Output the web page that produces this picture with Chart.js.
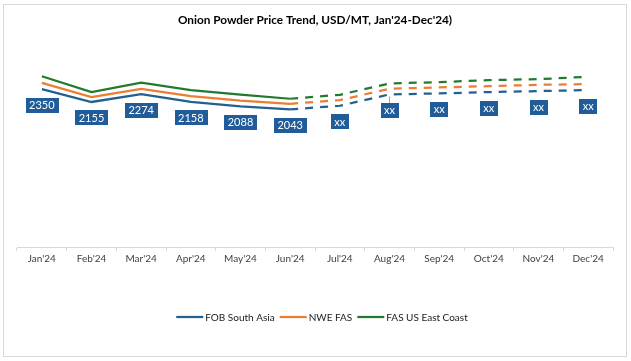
<!DOCTYPE html>
<html>
<head>
<meta charset="utf-8">
<script src="https://cdn.jsdelivr.net/npm/chart.js@4.4.1/dist/chart.umd.min.js"></script>
<style>
  html, body { margin: 0; padding: 0; background: #ffffff; }
  #wrap { position: relative; width: 631px; height: 361px; }
</style>
</head>
<body>
<div id="wrap"><canvas id="c" width="631" height="361"></canvas></div>
<script>
const categories = ["Jan'24","Feb'24","Mar'24","Apr'24","May'24","Jun'24","Jul'24","Aug'24","Sep'24","Oct'24","Nov'24","Dec'24"];
const fobSouthAsia = [2350, 2155, 2274, 2158, 2088, 2043, 2098, 2270, 2285, 2305, 2320, 2335];
const nweFas       = [2445, 2230, 2354, 2244, 2174, 2128, 2184, 2355, 2376, 2395, 2415, 2425];
const fasUsEast    = [2545, 2305, 2449, 2335, 2265, 2204, 2264, 2436, 2456, 2486, 2501, 2536];
const dataLabels   = ["2350","2155","2274","2158","2088","2043","xx","xx","xx","xx","xx","xx"];
const seriesNames  = ["FOB South Asia", "NWE FAS", "FAS US East Coast"];
const lastActualIndex = 5;

const FONT = "Lato, 'Open Sans', sans-serif";
const colors = ["#22618F", "#ED7D31", "#237A2F"];

const dashSeg = { borderDash: ctx => ctx.p0DataIndex >= lastActualIndex ? [8, 7] : undefined };

function mkDataset(label, data, color) {
  return {
    label, data,
    borderColor: color, backgroundColor: color,
    borderWidth: 2.25, pointRadius: 0, pointHoverRadius: 0,
    tension: 0, fill: false, borderCapStyle: 'butt',
    segment: dashSeg
  };
}

const borderPlugin = {
  id: 'frame',
  beforeDraw(chart) {
    const ctx = chart.ctx;
    ctx.save();
    ctx.fillStyle = '#ffffff';
    ctx.fillRect(0, 0, chart.width, chart.height);
    ctx.strokeStyle = '#d9d9d9';
    ctx.lineWidth = 1;
    ctx.strokeRect(3.5, 4.5, 623, 352);
    ctx.restore();
  }
};

const labelPlugin = {
  id: 'boxLabels',
  afterDatasetsDraw(chart) {
    const ctx = chart.ctx;
    const meta = chart.getDatasetMeta(0);
    ctx.save();
    ctx.font = "11px " + FONT;
    ctx.textAlign = 'center';
    ctx.textBaseline = 'middle';
    meta.data.forEach((pt, i) => {
      const txt = dataLabels[i];
      const w = ctx.measureText(txt).width + 7;
      const h = 15;
      const cx = pt.x, cy = pt.y + 16;
      if (i === 7) {
        ctx.strokeStyle = '#a6a6a6';
        ctx.lineWidth = 1;
        ctx.beginPath();
        ctx.moveTo(Math.round(cx) - 0.5, pt.y + 2);
        ctx.lineTo(Math.round(cx) - 0.5, cy - h / 2);
        ctx.stroke();
      }
      ctx.fillStyle = '#1F5C99';
      ctx.fillRect(Math.round(cx - w / 2), Math.round(cy - h / 2), Math.round(w), h);
      ctx.fillStyle = '#ffffff';
      ctx.fillText(txt, cx, cy + 0.5);
    });
    ctx.restore();
  }
};

// Legend drawn from the chart's own datasets (line sample + name)
const legendPlugin = {
  id: 'lineLegend',
  afterDraw(chart) {
    const ctx = chart.ctx;
    const ds = chart.data.datasets;
    const lineLen = 27, gapText = 2, gapItem = 5, y = 317, centerX = 322;
    ctx.save();
    ctx.font = "10px " + FONT;
    ctx.textBaseline = 'middle';
    ctx.textAlign = 'left';
    const widths = ds.map(d => lineLen + gapText + ctx.measureText(d.label).width);
    const total = widths.reduce((a, b) => a + b, 0) + gapItem * (ds.length - 1);
    let x = centerX - total / 2;
    ds.forEach((d, i) => {
      ctx.strokeStyle = d.borderColor;
      ctx.lineWidth = 2.25;
      ctx.beginPath();
      ctx.moveTo(x, y);
      ctx.lineTo(x + lineLen, y);
      ctx.stroke();
      ctx.fillStyle = '#1a1a1a';
      ctx.fillText(d.label, x + lineLen + gapText, y + 0.5);
      x += widths[i] + gapItem;
    });
    ctx.restore();
  }
};

new Chart(document.getElementById('c'), {
  type: 'line',
  data: {
    labels: categories,
    datasets: [
      mkDataset(seriesNames[0], fobSouthAsia, colors[0]),
      mkDataset(seriesNames[1], nweFas, colors[1]),
      mkDataset(seriesNames[2], fasUsEast, colors[2])
    ]
  },
  options: {
    responsive: false,
    animation: false,
    devicePixelRatio: 1,
    layout: { padding: { left: 17, right: 18, top: 0, bottom: 94 } },
    plugins: {
      title: {
        display: true,
        text: "Onion Powder Price Trend, USD/MT, Jan'24-Dec'24)",
        color: '#000000',
        font: { family: FONT, size: 11.8, weight: 'bold' },
        padding: { top: 13, bottom: 19 }
      },
      legend: { display: false },
      tooltip: { enabled: false }
    },
    scales: {
      x: {
        offset: true,
        grid: { display: true, drawOnChartArea: false, drawTicks: true, tickLength: 4, color: '#d9d9d9', offset: true },
        border: { display: true, color: '#d9d9d9', width: 1 },
        ticks: { color: '#404040', font: { family: FONT, size: 10 }, padding: 2, maxRotation: 0, autoSkip: false },
        afterFit(scale) { scale.height = 20; }
      },
      y: {
        display: false,
        min: -40, max: 3000
      }
    }
  },
  plugins: [borderPlugin, labelPlugin, legendPlugin]
});
</script>
</body>
</html>
